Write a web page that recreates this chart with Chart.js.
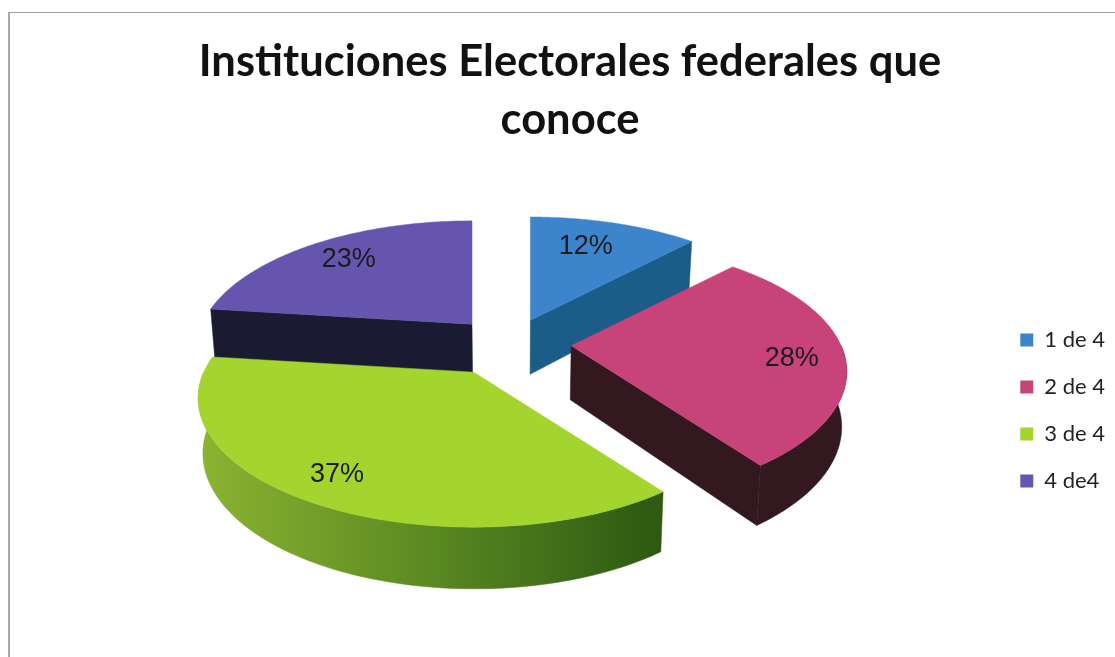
<!DOCTYPE html>
<html lang="es">
<head>
    <meta charset="UTF-8">
    <title>Instituciones Electorales federales que conoce</title>
    <script src="https://cdn.jsdelivr.net/npm/chart.js"></script>
    <style>
        html, body { margin: 0; height: 100%; background: #fff; overflow: hidden; }
        #frame {
            position: absolute;
            left: 8px;
            top: 12px;
            right: 0;
            bottom: 0;
            border-left: 2px solid #a8a8a8;
            border-top: 1px solid #a0a0a0;
        }
        canvas { position: absolute; left: 0; top: 0; }
    </style>
</head>
<body>
    <div id="frame"></div>
    <canvas id="pie" width="1115" height="657"></canvas>
    <script>
        const categories = ['1 de 4', '2 de 4', '3 de 4', '4 de4'];
        const percentages = [12, 28, 37, 23];
        const titleLines = ['Instituciones Electorales federales que', 'conoce'];

        // Excel-style tilted view of the pie plane
        const view = { cx: 510, cy: 344, rx: 270, ry: 124, persp: 0.2, depth: 54, inset: 0.985 };
        const topColors = ['#3c84cb', '#c8437a', '#a4d42e', '#6655ae'];
        const explode = [33, 35, 39, 34];
        const labelRadius = [0.62, 0.81, 0.85, 0.77];
        const labelLift = [-14, 2, -8, -4];
        const drawOrder = [0, 3, 1, 2];   // back slices first

        function project(a, b) {
            const s = 1 / (1 - view.persp * b);
            return { x: view.rx * a * s, y: view.ry * b * s, s: s };
        }

        const tiltedPie = {
            id: 'tiltedPie',
            beforeDatasetsDraw(chart) {
                const ctx = chart.ctx;
                const arcs = chart.getDatasetMeta(0).data;

                drawOrder.forEach(i => {
                    const arc = arcs[i];
                    const mid = (arc.startAngle + arc.endAngle) / 2;
                    const d = arc.options.offset / arc.outerRadius;
                    const shift = project(Math.cos(mid) * d, Math.sin(mid) * d);
                    const ox = view.cx + shift.x;
                    const oy = view.cy + shift.y;

                    const top = (a, b) => {
                        const p = project(a, b);
                        return { x: ox + p.x, y: oy + p.y };
                    };
                    const bottom = (a, b) => {
                        const p = project(a, b);
                        return {
                            x: view.cx + (ox + p.x - view.cx) * view.inset,
                            y: oy + p.y + view.depth * Math.pow(p.s, 0.6)
                        };
                    };
                    const rim = (t, f) => f(Math.cos(t), Math.sin(t));

                    const fillPath = (points, color) => {
                        ctx.beginPath();
                        points.forEach((p, n) => n ? ctx.lineTo(p.x, p.y) : ctx.moveTo(p.x, p.y));
                        ctx.closePath();
                        ctx.fillStyle = color;
                        ctx.fill();
                        ctx.strokeStyle = color;
                        ctx.lineWidth = 0.5;
                        ctx.stroke();
                    };

                    const wall = chart.options.plugins.tiltedPie.wallColors[i];
                    let wallFill = wall;
                    if (Array.isArray(wall)) {
                        wallFill = ctx.createLinearGradient(ox - view.rx, 0, ox + view.rx * 0.65, 0);
                        wall.forEach((c, n) => wallFill.addColorStop(n / (wall.length - 1), c));
                    }

                    // cut faces looking towards the viewer
                    [[arc.startAngle, Math.cos(arc.startAngle) < -0.01], [arc.endAngle, Math.cos(arc.endAngle) > 0.01]]
                        .forEach(([t, visible]) => {
                            if (!visible) return;
                            fillPath([top(0, 0), rim(t, top), rim(t, bottom), bottom(0, 0)],
                                Array.isArray(wall) ? wall[wall.length - 1] : wall);
                        });

                    // outer wall, front half of the circle only
                    const from = Math.max(arc.startAngle, 0);
                    const to = Math.min(arc.endAngle, Math.PI);
                    if (to > from) {
                        const upper = [], lower = [];
                        for (let n = 0; n <= 60; n++) {
                            const t = from + (to - from) * n / 60;
                            upper.push(rim(t, top));
                            lower.unshift(rim(t, bottom));
                        }
                        fillPath(upper.concat(lower), wallFill);
                    }

                    // top face
                    const face = [top(0, 0)];
                    for (let n = 0; n <= 80; n++) {
                        face.push(rim(arc.startAngle + (arc.endAngle - arc.startAngle) * n / 80, top));
                    }
                    fillPath(face, arc.options.backgroundColor);
                });

                // percentage labels
                ctx.font = '27px "Liberation Sans"';
                ctx.fillStyle = '#1a1a1a';
                ctx.textAlign = 'center';
                ctx.textBaseline = 'middle';
                arcs.forEach((arc, i) => {
                    const mid = (arc.startAngle + arc.endAngle) / 2;
                    const d = arc.options.offset / arc.outerRadius;
                    const shift = project(Math.cos(mid) * d, Math.sin(mid) * d);
                    const f = labelRadius[i];
                    const p = project(Math.cos(mid) * f, Math.sin(mid) * f);
                    ctx.fillText(percentages[i] + '%', view.cx + shift.x + p.x, view.cy + shift.y + p.y + 4 + labelLift[i]);
                });

                return false;   // the flat arcs are replaced by the drawing above
            }
        };

        new Chart(document.getElementById('pie'), {
            type: 'pie',
            data: {
                labels: categories,
                datasets: [{
                    data: percentages,
                    backgroundColor: topColors,
                    borderWidth: 0,
                    offset: explode
                }]
            },
            options: {
                responsive: false,
                animation: false,
                // bottom padding only lifts the legend, the pie uses the view above
                layout: { padding: { left: 25, right: 0, bottom: 140 } },
                plugins: {
                    tiltedPie: {
                        wallColors: ['#1b5c88', '#33181f', ['#8ab331', '#5c8a22', '#2e5a12'], '#1a1b33']
                    },
                    title: {
                        display: true,
                        text: titleLines,
                        color: '#111',
                        font: { family: 'Lato', size: 43.5, weight: 'bold', lineHeight: 1.33 },
                        padding: { top: 33, bottom: 20 }
                    },
                    legend: {
                        position: 'right',
                        align: 'end',
                        labels: {
                            color: '#222',
                            font: { family: 'Lato', size: 22 },
                            boxWidth: 13,
                            boxHeight: 13,
                            padding: 25
                        }
                    },
                    tooltip: { enabled: false }
                }
            },
            plugins: [tiltedPie]
        });
    </script>
</body>
</html>
